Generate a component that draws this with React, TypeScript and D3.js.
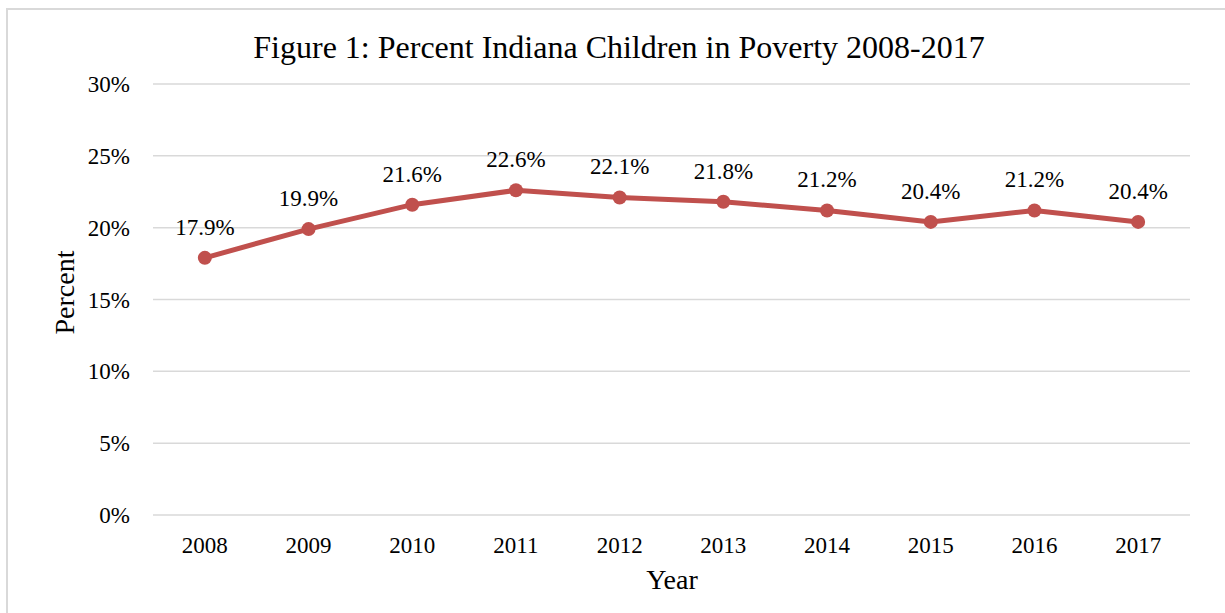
import React from "react";
import * as d3 from "d3";

const years = ["2008", "2009", "2010", "2011", "2012", "2013", "2014", "2015", "2016", "2017"];
const percents = [17.9, 19.9, 21.6, 22.6, 22.1, 21.8, 21.2, 20.4, 21.2, 20.4];
const yTicks = [0, 5, 10, 15, 20, 25, 30];
const title = "Figure 1: Percent Indiana Children in Poverty 2008-2017";

const W = 1225;
const H = 613;
const plot = { left: 153, right: 1190, top: 84, bottom: 515 };
const FONT = "'Liberation Serif', 'Times New Roman', serif";
const LINE = "#C0504D";

export default function App() {
  const x = d3.scaleBand<string>().domain(years).range([plot.left, plot.right]);
  const y = d3.scaleLinear().domain([0, 30]).range([plot.bottom, plot.top]);
  const cx = (yr: string) => (x(yr) as number) + x.bandwidth() / 2;
  const data = years.map((yr, i) => ({ yr, v: percents[i] }));
  const line = d3
    .line<{ yr: string; v: number }>()
    .x((d) => cx(d.yr))
    .y((d) => y(d.v));

  return (
    <svg
      width={W}
      height={H}
      style={{ position: "absolute", left: 0, top: 0, background: "#fff" }}
      fontFamily={FONT}
    >
      <rect x={7} y={9} width={W + 20} height={H + 20} fill="#fff" stroke="#d9d9d9" strokeWidth={2} />
      <text x={619} y={58} textAnchor="middle" fontSize={32} fill="#000">
        {title}
      </text>
      {yTicks.map((t) => (
        <g key={t}>
          <line x1={plot.left} x2={plot.right} y1={y(t)} y2={y(t)} stroke="#d9d9d9" strokeWidth={1.5} />
          <text x={130} y={y(t)} dy="0.35em" textAnchor="end" fontSize={23} fill="#000">
            {t + "%"}
          </text>
        </g>
      ))}
      {years.map((yr) => (
        <text key={yr} x={cx(yr)} y={553} textAnchor="middle" fontSize={23} fill="#000">
          {yr}
        </text>
      ))}
      <text x={672} y={589} textAnchor="middle" fontSize={28} fill="#000">
        Year
      </text>
      <text
        transform={`translate(74, 292.5) rotate(-90)`}
        textAnchor="middle"
        fontSize={28}
        fill="#000"
      >
        Percent
      </text>
      <path d={line(data) || ""} fill="none" stroke={LINE} strokeWidth={5} strokeLinejoin="round" />
      {data.map((d) => (
        <circle key={d.yr} cx={cx(d.yr)} cy={y(d.v)} r={7} fill={LINE} />
      ))}
      {data.map((d) => (
        <text key={"l" + d.yr} x={cx(d.yr)} y={y(d.v) - 23} textAnchor="middle" fontSize={23} fill="#000">
          {d.v.toFixed(1) + "%"}
        </text>
      ))}
    </svg>
  );
}
